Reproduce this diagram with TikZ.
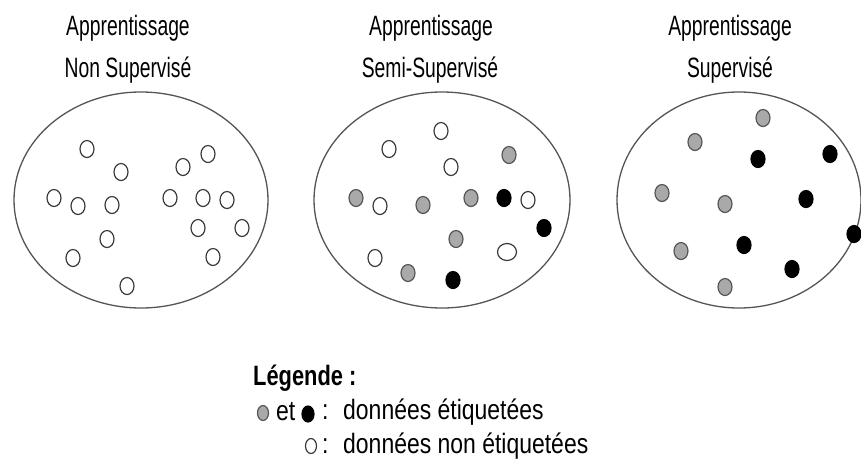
\documentclass[tikz,border=0pt]{standalone}
\usepackage{fontspec}
\setmainfont{Liberation Sans}
\usetikzlibrary{shapes.geometric}
\definecolor{outl}{HTML}{555555}
\definecolor{dotline}{HTML}{3A3A3A}
\definecolor{grayfill}{HTML}{A9A9A9}
\tikzset{
  dotbase/.style={ellipse, inner sep=0pt, minimum width=14pt, minimum height=17pt, draw=dotline, line width=1.2pt},
  wdot/.style={dotbase, fill=white},
  gdot/.style={dotbase, fill=grayfill, draw=outl},
  bdot/.style={dotbase, fill=black, draw=black},
  titletxt/.style={inner sep=0pt, font=\fontsize{28}{30}\selectfont},
  legtxt/.style={inner sep=0pt, anchor=west, font=\fontsize{28}{30}\selectfont},
}
\newcommand{\tsq}[1]{\scalebox{0.69}[1]{#1}}
\newcommand{\lsq}[1]{\scalebox{0.82}[1]{#1}}
\begin{document}
\begin{tikzpicture}[x=1pt,y=-1pt]
\useasboundingbox (0,0) rectangle (861,459);
\fill[white] (0,0) rectangle (861,459);
\begin{scope}
\clip (0,0) rectangle (861,459);
% titles
\node[titletxt] (t1a) at (128,28) {\tsq{Apprentissage}};
\node[titletxt] (t1b) at (128,70) {\tsq{Non Supervisé}};
\node[titletxt] (t2a) at (431,28) {\tsq{Apprentissage}};
\node[titletxt] (t2b) at (430,70) {\tsq{Semi-Supervisé}};
\node[titletxt] (t3a) at (730,28) {\tsq{Apprentissage}};
\node[titletxt] (t3b) at (730,70) {\tsq{Supervisé}};
% ellipses
\draw[outl, line width=1.3pt] (141,200) ellipse (127 and 108);
\draw[outl, line width=1.3pt] (442,200) ellipse (128 and 108);
\draw[outl, line width=1.3pt] (739,200) ellipse (122 and 108);
% left: unsupervised
\node[wdot] (a1) at (87,149) {};
\node[wdot] (a2) at (121,172) {};
\node[wdot] (a3) at (183,167) {};
\node[wdot] (a4) at (208,154) {};
\node[wdot] (a5) at (54,198) {};
\node[wdot] (a6) at (78,206) {};
\node[wdot] (a7) at (112,205) {};
\node[wdot] (a8) at (170,198) {};
\node[wdot] (a9) at (203,198) {};
\node[wdot] (a10) at (227,200) {};
\node[wdot] (a11) at (107,239) {};
\node[wdot] (a12) at (198,228) {};
\node[wdot] (a13) at (242,228) {};
\node[wdot] (a14) at (73,258) {};
\node[wdot] (a15) at (213,257) {};
\node[wdot] (a16) at (127,286) {};
% middle: semi-supervised
\node[wdot] (b1) at (441,131) {};
\node[wdot] (b2) at (389,149) {};
\node[wdot] (b3) at (451,167) {};
\node[gdot] (b4) at (509,155) {};
\node[gdot] (b5) at (356,198) {};
\node[wdot] (b6) at (380,206) {};
\node[gdot] (b7) at (423,205) {};
\node[gdot] (b8) at (471,198) {};
\node[bdot] (b9) at (504,198) {};
\node[wdot] (b10) at (528,200) {};
\node[bdot] (b11) at (544,228) {};
\node[gdot] (b12) at (456,239) {};
\node[wdot, minimum width=19pt, minimum height=17pt] (b13) at (507,252) {};
\node[wdot] (b14) at (375,258) {};
\node[gdot] (b15) at (408,273) {};
\node[bdot] (b16) at (453,280) {};
% right: supervised
\node[gdot] (c1) at (763,118) {};
\node[gdot] (c2) at (695,142) {};
\node[bdot] (c3) at (758,159) {};
\node[bdot] (c4) at (830,154) {};
\node[gdot] (c5) at (662,193) {};
\node[gdot] (c6) at (725,204) {};
\node[bdot] (c7) at (806,199) {};
\node[bdot] (c8) at (854,234) {};
\node[gdot] (c9) at (681,251) {};
\node[bdot] (c10) at (744,245) {};
\node[bdot] (c11) at (792,269) {};
\node[gdot] (c12) at (725,287) {};
% legend
\node[legtxt, font=\fontsize{28}{30}\selectfont\bfseries] (lg) at (253,378) {\scalebox{0.78}[1]{Légende :}};
\node[gdot, minimum width=11pt, minimum height=15pt] (lgg) at (263,413) {};
\node[legtxt] (let) at (276,412) {\lsq{et}};
\node[bdot, minimum width=12pt, minimum height=16pt] (lgb) at (308,414) {};
\node[legtxt] (lc1) at (322,412) {\lsq{:}};
\node[legtxt] (l1) at (343,412) {\lsq{données étiquetées}};
\node[wdot, minimum width=11pt, minimum height=15pt] (lgw) at (311,446) {};
\node[legtxt] (lc2) at (322,446) {\lsq{:}};
\node[legtxt] (l2) at (343,446) {\lsq{données non étiquetées}};
\end{scope}
\end{tikzpicture}
\end{document}
